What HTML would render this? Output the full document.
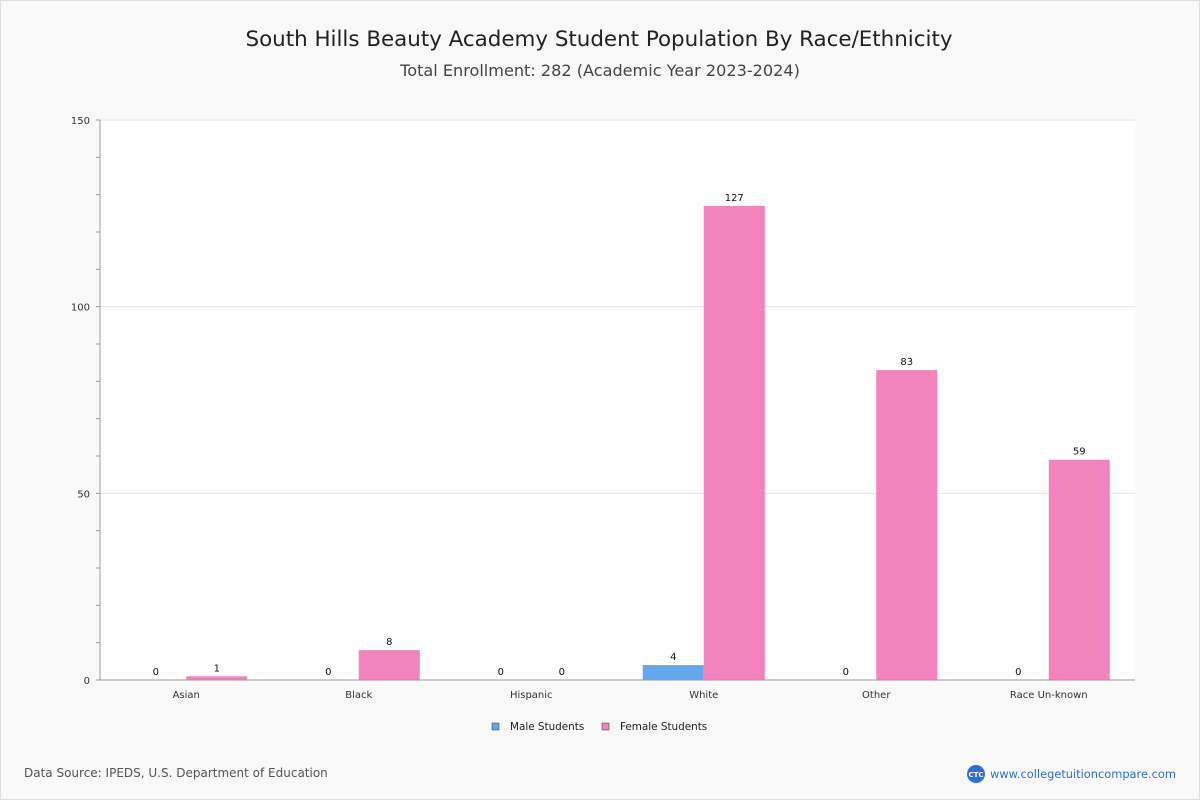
<!DOCTYPE html>
<html><head><meta charset="utf-8"><style>
body{margin:0;background:#fff;font-family:"DejaVu Sans","Liberation Sans",sans-serif}
#wrap{position:absolute;left:0;top:0;width:1198px;height:798px;border:1px solid #ddd;background:#f9f9f9}
</style></head><body>
<div id="wrap">
<svg id="svg" width="1200" height="800" style="position:absolute;left:-1px;top:-1px">
<text x="599" y="46" text-anchor="middle" font-size="21.4" fill="#222">South Hills Beauty Academy Student Population By Race/Ethnicity</text>
<text x="600" y="76" text-anchor="middle" font-size="16.1" fill="#444">Total Enrollment: 282 (Academic Year 2023-2024)</text>
<rect x="100" y="120" width="1035" height="560" fill="#fff"/>
<g id="grid"></g><g id="bars"></g>
<line x1="100" y1="120" x2="100" y2="680" stroke="#999"/>
<line x1="100" y1="680" x2="1135" y2="680" stroke="#999"/>
<g>
<rect x="492" y="723" width="7" height="7" fill="#64a8ec" stroke="#333" stroke-width="0.5"/>
<text x="510" y="730" font-size="10.4" fill="#222">Male Students</text>
<rect x="602" y="723" width="7" height="7" fill="#f383bc" stroke="#333" stroke-width="0.5"/>
<text x="620" y="730" font-size="10.4" fill="#222">Female Students</text>
</g>
<text x="24" y="777" font-size="12" fill="#555">Data Source: IPEDS, U.S. Department of Education</text>
<g>
<circle cx="976" cy="774" r="9" fill="#2d6fd6"/>
<text x="976" y="777" text-anchor="middle" font-size="7" font-weight="bold" fill="#fff">CTC</text>
<text x="990" y="778" font-size="11.4" fill="#2d6fd6">www.collegetuitioncompare.com</text>
</g>
</svg></div>
<script>
const categories=["Asian","Black","Hispanic","White","Other","Race Un-known"];
const maleValues=[0,0,0,4,0,0];
const femaleValues=[1,8,0,127,83,59];
const yTicks=[0,50,100,150];
const NS="http://www.w3.org/2000/svg";
const x0=100,x1=1135,yTop=120,yBot=680,yMax=150;
const y=v=>yBot-v/yMax*(yBot-yTop);
const band=(x1-x0)/categories.length;
function mk(t,a,p){const e=document.createElementNS(NS,t);for(const k in a)e.setAttribute(k,a[k]);p.appendChild(e);return e;}
const grid=document.getElementById('grid'),bars=document.getElementById('bars');
for(let v=0;v<=yMax;v+=10){const l=mk('line',{x1:96,x2:100,y1:y(v),y2:y(v),stroke:'#999'},grid);

}
yTicks.forEach(v=>{
 if(v>0){const g=mk('line',{x1:100,x2:1135,y1:y(v),y2:y(v),stroke:'#e3e3e3'},grid);
 
 }
 const t=mk('text',{x:90,y:y(v)+4,'text-anchor':'end','font-size':10,fill:'#333'},grid);t.textContent=v;
 
 
});
const bw=61;
categories.forEach((c,i)=>{
 const cx=x0+band*(i+0.5);
 const lab=mk('text',{x:cx,y:698,'text-anchor':'middle','font-size':10,fill:'#333'},bars);lab.textContent=c;
 
 
 [[maleValues[i],cx-bw,'#64a8ec','male'],[femaleValues[i],cx,'#f383bc','female']].forEach(([v,bx,col,s])=>{
  const r=mk('rect',{x:bx,y:y(v),width:bw,height:yBot-y(v),fill:col},bars);
  
  
  const t=mk('text',{x:bx+bw/2,y:y(v)-5,'text-anchor':'middle','font-size':10,fill:'#111'},bars);t.textContent=v;
  
  
 });
});
</script>
</body></html>
